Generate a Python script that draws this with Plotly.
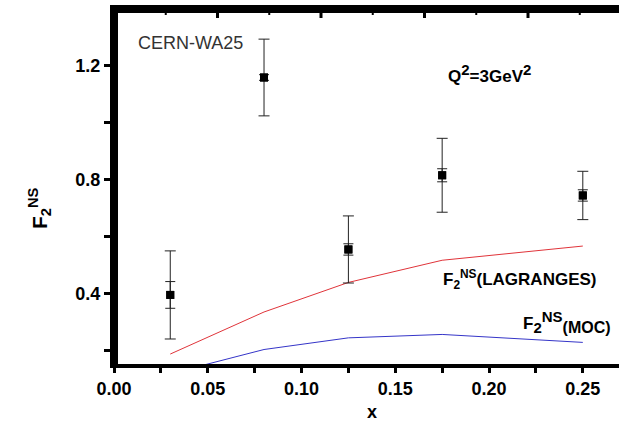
import plotly.graph_objects as go

# CERN-WA25 measurements of F2^NS at Q^2 = 3 GeV^2
x_data = [0.03, 0.08, 0.125, 0.175, 0.25]
f2_data = [0.394, 1.159, 0.554, 0.815, 0.744]
err_total = [0.155, 0.135, 0.118, 0.130, 0.085]
err_stat = [0.047, 0.010, 0.020, 0.023, 0.020]

# Model curves
x_model = [0.03, 0.08, 0.125, 0.175, 0.25]
f2_lagranges = [0.186, 0.334, 0.438, 0.516, 0.566]
f2_moc = [0.117, 0.202, 0.243, 0.255, 0.227]

# Axis ranges and ticks (labelled and unlabelled)
x_range = [0, 0.2693]
y_range = [0.151, 1.40]
x_ticks = [0, 0.025, 0.05, 0.075, 0.10, 0.125, 0.15, 0.175, 0.20, 0.225, 0.25]
x_labels = ["0.00", "", "0.05", "", "0.10", "", "0.15", "", "0.20", "", "0.25"]
y_ticks = [0.2, 0.4, 0.6, 0.8, 1.0, 1.2]
y_labels = ["", "0.4", "", "0.8", "", "1.2"]
# top frame ticks, in units of the upper scale
top_major = [1, 2, 3, 4]
top_minor = [0.5, 1.5, 2.5, 3.5, 4.5]

font_family = "Liberation Sans, Arial, sans-serif"
bar_color = "#222222"
pw, ph = 505, 355  # plot area size in pixels


def bold(items):
    return ["<b>%s</b>" % t if t else "" for t in items]


fig = go.Figure()

fig.add_trace(go.Scatter(
    x=x_model, y=f2_lagranges, mode="lines",
    line=dict(color="#e0343a", width=1), showlegend=False,
))
fig.add_trace(go.Scatter(
    x=x_model, y=f2_moc, mode="lines",
    line=dict(color="#3535c8", width=1), showlegend=False,
))

# total uncertainty (outer bars)
fig.add_trace(go.Scatter(
    x=x_data, y=f2_data, mode="markers",
    marker=dict(symbol="square", size=8, color="black"),
    error_y=dict(type="data", array=err_total, color=bar_color,
                 thickness=1, width=5.5),
    showlegend=False,
))
# statistical uncertainty (inner bars)
fig.add_trace(go.Scatter(
    x=x_data, y=f2_data, mode="markers",
    marker=dict(symbol="square", size=8, color="black"),
    error_y=dict(type="data", array=err_stat, color=bar_color,
                 thickness=1, width=5),
    showlegend=False,
))

# heavy frame along the left and top edges of the plot area
fig.add_trace(go.Scatter(
    x=[x_range[0], x_range[0], x_range[1]],
    y=[y_range[0], y_range[1], y_range[1]],
    mode="lines", line=dict(color="black", width=8),
    showlegend=False, hoverinfo="skip",
))

# inward ticks hanging from the top frame
x_per_unit = 103.5 / pw * (x_range[1] - x_range[0])
y_per_px = (y_range[1] - y_range[0]) / ph
for vals, length, width in ((top_major, 9, 3), (top_minor, 6, 2)):
    tx, ty = [], []
    for v in vals:
        tx += [v * x_per_unit, v * x_per_unit, None]
        ty += [y_range[1], y_range[1] - length * y_per_px, None]
    fig.add_trace(go.Scatter(
        x=tx, y=ty, mode="lines", line=dict(color="black", width=width),
        showlegend=False, hoverinfo="skip",
    ))

tick_font = dict(family=font_family, size=18, color="black")

fig.update_layout(
    width=619, height=424,
    margin=dict(l=114, r=0, t=9, b=60, autoexpand=False),
    paper_bgcolor="white", plot_bgcolor="white",
    font=dict(family=font_family, color="black"),
    xaxis=dict(
        range=x_range, tickvals=x_ticks, ticktext=bold(x_labels),
        automargin=False, showgrid=False, zeroline=False,
        showline=True, linecolor="black", linewidth=4, mirror=True,
        ticks="outside", ticklen=5, tickwidth=3, tickcolor="black",
        tickfont=tick_font,
    ),
    yaxis=dict(
        range=y_range, tickvals=y_ticks, ticktext=bold(y_labels),
        automargin=False, showgrid=False, zeroline=False,
        showline=True, linecolor="black", linewidth=4, mirror=False,
        ticks="outside", ticklen=6, tickwidth=3, tickcolor="black",
        tickfont=tick_font,
    ),
)

label_font = dict(family=font_family, size=17, color="black")


def px(xp):
    return (xp - 114) / pw


def py(yp):
    return (364 - yp) / ph


fig.add_annotation(
    text="<b>x</b>", xref="paper", yref="paper", x=px(372), y=py(412),
    showarrow=False, font=dict(family=font_family, size=18, color="black"),
    xanchor="center", yanchor="middle",
)
fig.add_annotation(
    text="<b>F<sub>2</sub><sup>NS</sup></b>", xref="paper", yref="paper",
    x=px(40), y=py(208), textangle=-90,
    showarrow=False, font=dict(family=font_family, size=21, color="black"),
    xanchor="center", yanchor="middle",
)
fig.add_annotation(
    text="CERN-WA25", xref="paper", yref="paper",
    x=px(136), y=py(43), xanchor="left",
    yanchor="middle", showarrow=False,
    font=dict(family=font_family, size=18, color="#333333"),
)
fig.add_annotation(
    text=("<b>Q<sup><span style='font-size:15px'>2</span></sup>=3GeV"
          "<sup><span style='font-size:15px'>2</span></sup></b>"),
    xref="paper", yref="paper", x=px(446), y=py(73), xanchor="left",
    yanchor="middle", showarrow=False, font=label_font,
)
fig.add_annotation(
    text="<b>F<sub>2</sub><sup>NS</sup>(LAGRANGES)</b>",
    xref="paper", yref="paper", x=px(441), y=py(279), xanchor="left",
    yanchor="middle", showarrow=False, font=label_font,
)
fig.add_annotation(
    text=("<b>F<sub><span style='font-size:15px'>2</span></sub>"
          "<sup><span style='font-size:15px'>NS</span></sup>"
          "<sub><span style='font-size:16px'>(MOC)</span></sub></b>"),
    xref="paper", yref="paper", x=px(521), y=py(322), xanchor="left",
    yanchor="middle", showarrow=False, font=label_font,
)

fig.write_html("out.html")
